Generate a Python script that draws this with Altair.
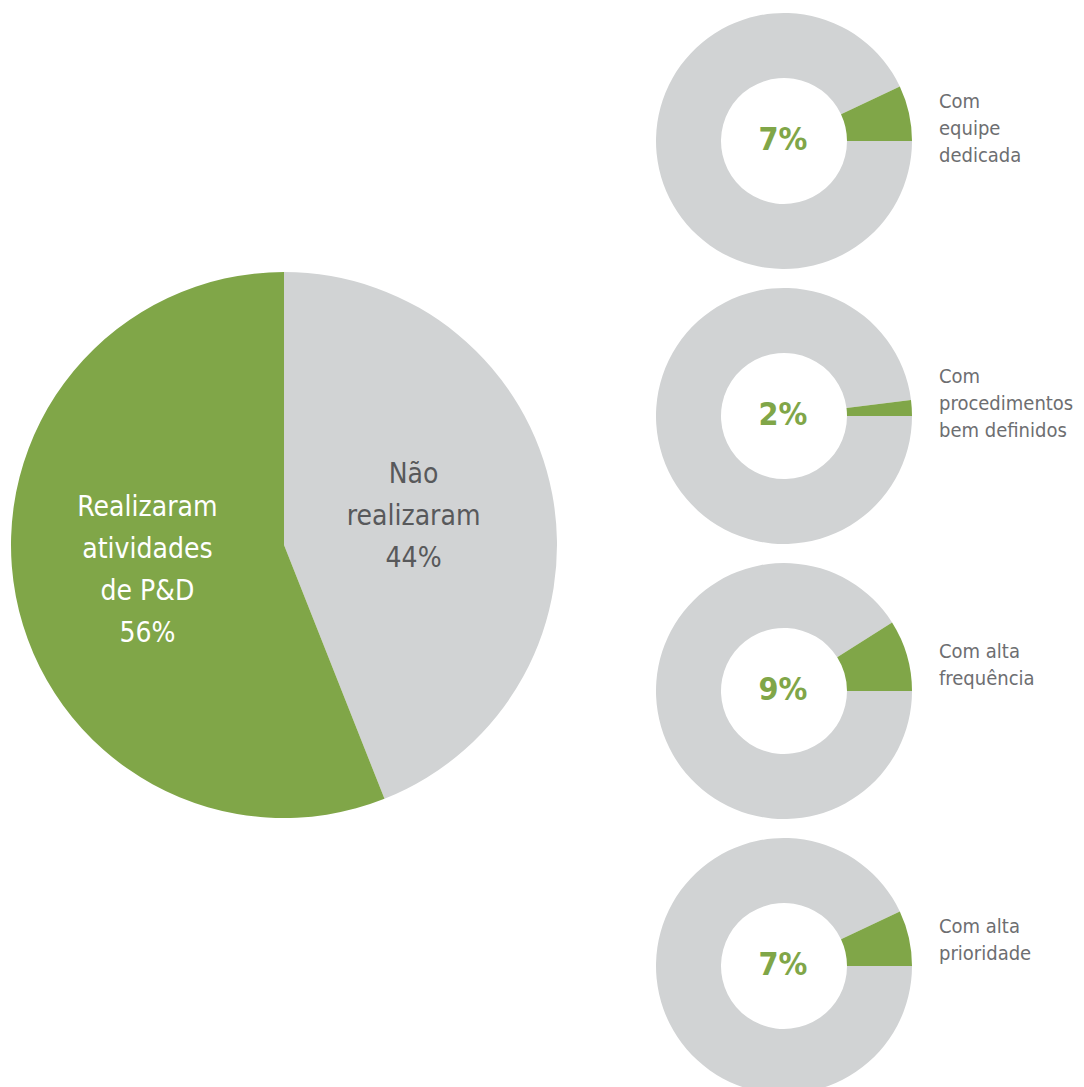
import math
import altair as alt
import pandas as pd

# ---- data ----
pie_keys = ["nao", "sim"]
pie_categories = ["Não\nrealizaram", "Realizaram\natividades\nde P&D"]
pie_values = [44, 56]

donut_labels = [
    "Com\nequipe\ndedicada",
    "Com\nprocedimentos\nbem definidos",
    "Com alta\nfrequência",
    "Com alta\nprioridade",
]
donut_values = [7, 2, 9, 7]

GREEN = "#80a648"
GRAY = "#d1d3d4"
DARK = "#58595b"
LABEL = "#6d6e71"
FONT = "Liberation Sans Narrow, DejaVu Sans Condensed, Roboto Condensed, Roboto, sans-serif"

# ---- big pie ----
pie_df = pd.DataFrame({
    "key": pie_keys,
    "cat": pie_categories,
    "valor": pie_values,
    "ordem": list(range(len(pie_keys))),
})
pie_df["rotulo"] = pie_df["cat"] + "\n" + pie_df["valor"].astype(str) + "%"

LH = 42
pie_base = alt.Chart(pie_df).encode(
    theta=alt.Theta("valor:Q", stack=True),
    order=alt.Order("ordem:Q"),
)
pie_arcs = pie_base.mark_arc(outerRadius=273).encode(
    color=alt.Color("key:N", scale=alt.Scale(domain=pie_keys, range=[GRAY, GREEN]), legend=None)
)
text_layers = []
for key, cat, color, extra_y, extra_x in zip(pie_keys, pie_categories, [DARK, "#ffffff"], [-3, 1], [-4, -3]):
    n_lines = cat.count("\n") + 2
    text_layers.append(
        pie_base.mark_text(
            radius=136, fontSize=28, lineHeight=LH, font=FONT, lineBreak="\n",
            align="center", baseline="middle", color=color,
            dy=-(n_lines - 1) * LH / 2 + extra_y, dx=extra_x,
        ).encode(
            text="rotulo:N",
            opacity=alt.condition(alt.datum.key == key, alt.value(1), alt.value(0)),
        )
    )
left = alt.layer(pie_arcs, *text_layers).properties(width=552, height=1074)


# ---- donuts ----
def donut(label, v):
    df = pd.DataFrame({"parte": ["resto", "destaque"], "valor": [100 - v, v], "ordem": [0, 1]})
    arc = alt.Chart(df).mark_arc(outerRadius=128, innerRadius=63).encode(
        theta=alt.Theta("valor:Q", stack=True,
                        scale=alt.Scale(range=[math.pi / 2, math.pi / 2 + 2 * math.pi])),
        order=alt.Order("ordem:Q"),
        color=alt.Color("parte:N", scale=alt.Scale(domain=["resto", "destaque"], range=[GRAY, GREEN]),
                        legend=None),
    )
    pct = alt.Chart(pd.DataFrame({"t": [f"{v}%"]})).mark_text(
        fontSize=32, fontWeight="bold", color=GREEN, font=FONT, baseline="middle", align="center"
    ).encode(text="t:N", x=alt.value(132), y=alt.value(132))
    lab = alt.Chart(pd.DataFrame({"t": [label]})).mark_text(
        align="left", baseline="top", fontSize=20, lineHeight=27, color=LABEL, font=FONT, lineBreak="\n"
    ).encode(text="t:N", x=alt.value(288), y=alt.value(84))
    return alt.layer(arc, pct, lab).properties(width=266, height=266)


right = alt.vconcat(*[donut(l, v) for l, v in zip(donut_labels, donut_values)], spacing=9)

chart = alt.hconcat(left, right, spacing=91).configure_view(strokeWidth=0).properties(padding=0)

chart.save("out.html", embed_options={"renderer": "svg", "actions": False})
